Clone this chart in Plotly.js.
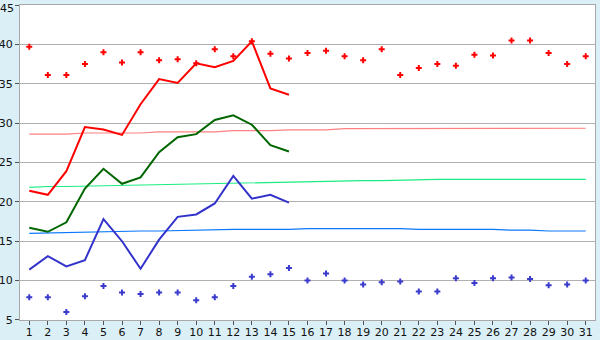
<!DOCTYPE html>
<html>
<head>
<meta charset="utf-8">
<script src="https://cdn.plot.ly/plotly-3.0.1.min.js"></script>
<style>
html,body{margin:0;padding:0;background:#daeff6;}
#chart{width:600px;height:340px;}
</style>
</head>
<body>
<div id="chart"></div>
<script>
const days = [1,2,3,4,5,6,7,8,9,10,11,12,13,14,15,16,17,18,19,20,21,22,23,24,25,26,27,28,29,30,31];
const tickLabels = days.map(String);
const yTicks = [5,10,15,20,25,30,35,40,45];

// daily values, first 15 days
const dailyMax  = [21.4,20.9,23.9,29.5,29.2,28.5,32.4,35.6,35.1,37.6,37.1,37.9,40.4,34.4,33.6];
const dailyMean = [16.7,16.2,17.4,21.7,24.2,22.3,23.1,26.3,28.2,28.6,30.4,31.0,29.8,27.2,26.4];
const dailyMin  = [11.4,13.1,11.8,12.6,17.8,15.0,11.5,15.2,18.1,18.4,19.8,23.3,20.4,20.9,19.9];

// record values
const recordMax = [39.7,36.1,36.1,37.5,39.0,37.7,39.0,38.0,38.1,37.6,39.4,38.5,40.4,38.8,38.2,38.9,39.2,38.5,38.0,39.4,36.1,37.0,37.5,37.3,38.7,38.6,40.5,40.5,38.9,37.5,38.5];
const recordMin = [7.9,7.9,6.0,8.0,9.3,8.5,8.3,8.5,8.5,7.5,7.9,9.3,10.5,10.8,11.6,10.0,10.9,10.0,9.5,9.8,9.9,8.6,8.6,10.3,9.7,10.3,10.4,10.2,9.4,9.5,10.0];

// normals
const normalMax  = [28.6,28.6,28.6,28.75,28.75,28.75,28.75,28.9,28.9,28.9,28.9,29.05,29.05,29.05,29.15,29.15,29.15,29.3,29.3,29.3,29.3,29.3,29.3,29.3,29.3,29.3,29.35,29.35,29.35,29.35,29.35];
const normalMean = [21.85,21.95,21.95,22.0,22.05,22.1,22.15,22.2,22.25,22.3,22.35,22.4,22.4,22.45,22.55,22.55,22.6,22.65,22.7,22.7,22.75,22.85,22.85,22.85,22.85,22.85,22.85,22.85,22.85,22.85,22.85];
const normalMin  = [16.0,16.05,16.15,16.15,16.2,16.25,16.3,16.3,16.35,16.4,16.5,16.5,16.5,16.5,16.5,16.6,16.6,16.6,16.6,16.6,16.6,16.5,16.5,16.5,16.5,16.5,16.4,16.4,16.3,16.3,16.3];

const d15 = days.slice(0,15);
const topTick = yTicks[yTicks.length - 1];

const traces = [
  {x:days, y:normalMax, mode:'lines', line:{color:'#ff8080', width:1.2}},
  {x:days, y:normalMean, mode:'lines', line:{color:'#1aee80', width:1.2}},
  {x:days, y:normalMin, mode:'lines', line:{color:'#0a78ff', width:1.2}},
  {x:d15, y:dailyMax, mode:'lines', line:{color:'#ff0000', width:2}},
  {x:d15, y:dailyMean, mode:'lines', line:{color:'#006600', width:2}},
  {x:d15, y:dailyMin, mode:'lines', line:{color:'#3333cc', width:2}},
  {x:days, y:recordMax, mode:'markers', marker:{symbol:'cross', size:5, color:'#ff0000', line:{width:0}}},
  {x:days, y:recordMin, mode:'markers', marker:{symbol:'cross', size:5, color:'#3a3acc', line:{width:0}}}
];

const layout = {
  width:600, height:340,
  margin:{l:20, r:5, t:5, b:20, pad:0},
  paper_bgcolor:'#daeff6',
  plot_bgcolor:'#ffffff',
  showlegend:false,
  font:{family:'DejaVu Sans, Verdana, sans-serif', size:11, color:'#111'},
  xaxis:{
    range:[0.5,31.5], tickvals:days, ticktext:tickLabels,
    showgrid:false, zeroline:false,
    showline:true, linecolor:'#a8a8a8', linewidth:1, mirror:true,
    ticks:'outside', ticklen:4, tickcolor:'#555', tickwidth:1,
    ticklabelstandoff:-2,
    tickfont:{size:11}, fixedrange:true
  },
  yaxis:{
    range:[4.995,45.005], tickvals:yTicks,
    ticktext:yTicks.map(v => v === topTick ? '' : String(v)),
    showgrid:true, gridcolor:'#b0b0b0', gridwidth:1, zeroline:false,
    showline:true, linecolor:'#a8a8a8', linewidth:1, mirror:true,
    ticks:'outside', ticklen:4, tickcolor:'#555', tickwidth:1,
    tickfont:{size:11}, fixedrange:true
  },
  annotations:[{
    xref:'paper', x:0, xanchor:'right', xshift:-5,
    yref:'y', y:topTick, yanchor:'top', yshift:4, borderpad:0,
    text:String(topTick), showarrow:false,
    font:{family:'DejaVu Sans, Verdana, sans-serif', size:11, color:'#111'}
  }]
};

Plotly.newPlot('chart', traces, layout, {staticPlot:true, displayModeBar:false});
</script>
</body>
</html>
